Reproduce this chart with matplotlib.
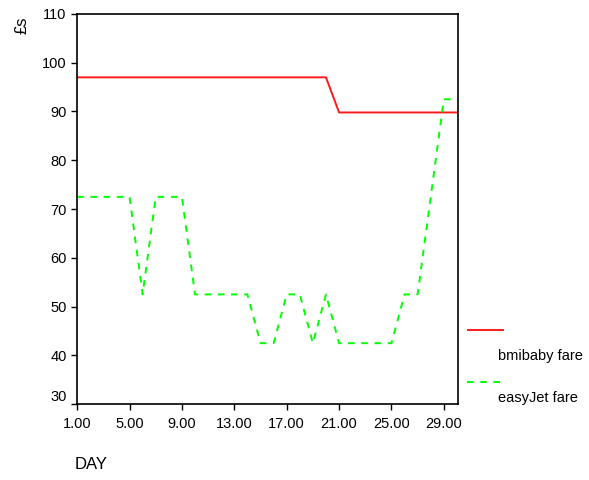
import matplotlib
matplotlib.use('Agg')
import matplotlib.pyplot as plt
from matplotlib.lines import Line2D

plt.rcParams['font.family'] = ['Liberation Sans', 'DejaVu Sans']

# données
days = list(range(1, 31))
bmibaby = [97.0] * 20 + [89.8] * 10
easyjet = [72.5, 72.5, 72.5, 72.5, 72.5, 52.5, 72.5, 72.5, 72.5, 52.5,
           52.5, 52.5, 52.5, 52.5, 42.5, 42.5, 52.5, 52.5, 42.5, 52.5,
           42.5, 42.5, 42.5, 42.5, 42.5, 52.5, 52.5, 72.5, 92.5, 92.5]
xticks = [1, 5, 9, 13, 17, 21, 25, 29]
yticks = [30, 40, 50, 60, 70, 80, 90, 100, 110]
labels = ['bmibaby fare', 'easyJet fare']

fig = plt.figure(figsize=(5.89, 4.8), dpi=100)
ax = fig.add_axes([0.131, 0.158, 0.647, 0.813])

ax.plot(days, bmibaby, color='#ff1a1a', lw=1.4)
ax.plot(days, easyjet, color='#00ff00', lw=1.4, dashes=(3.4, 3.4))

ax.set_xlim(1, 30.1)
ax.set_ylim(30, 110)
ax.set_xticks(xticks)
ax.set_xticklabels([f'{d:.2f}' for d in xticks])
ax.set_yticks(yticks)
ax.tick_params(direction='out', length=4, width=1, labelsize=10.5, colors='black')
ax.tick_params(axis='x', pad=5)
ax.get_yticklabels()[0].set_va('bottom')  # le "30" est remonté dans l'original
for s in ax.spines.values():
    s.set_linewidth(1.2)

fig.text(0.037, 0.948, '£s', rotation=90, fontsize=12, ha='center', va='center')
fig.text(0.127, 0.032, 'DAY', fontsize=12, ha='left', va='center')

# légende à la SPSS : échantillon de trait puis libellé en dessous
fig.add_artist(Line2D([468 / 589, 503 / 589], [1 - 330 / 480] * 2,
                      color='#ff1a1a', lw=1.4))
fig.text(498 / 589, 1 - 356 / 480, labels[0], fontsize=10.5, va='center')
fig.add_artist(Line2D([467 / 589, 502 / 589], [1 - 382 / 480] * 2,
                      color='#00ff00', lw=1.4, dashes=(3.4, 3.4)))
fig.text(498 / 589, 1 - 398 / 480, labels[1], fontsize=10.5, va='center')

plt.savefig('out.png')
plt.close()
